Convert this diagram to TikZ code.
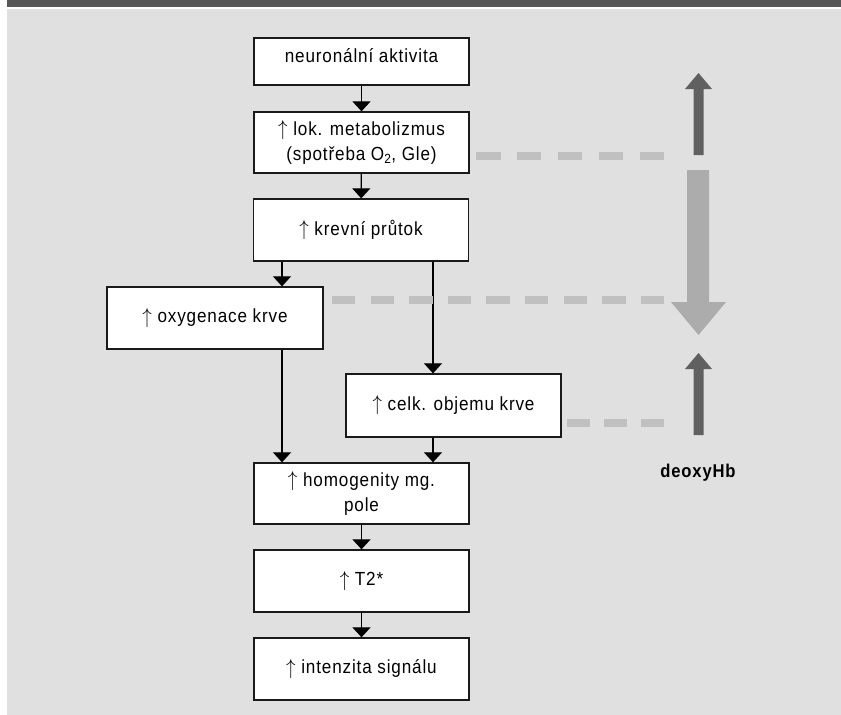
\documentclass[tikz,border=0pt]{standalone}
\usepackage{fontspec}
\usepackage{graphicx}
\setmainfont[LetterSpace=4.5, FakeStretch=0.9]{Liberation Sans}
\usetikzlibrary{arrows.meta}
\definecolor{bgc}{HTML}{E0E0E0}
\definecolor{hdrc}{HTML}{575757}
\definecolor{boxline}{HTML}{1A1A1A}
\definecolor{dashc}{HTML}{C0C0C0}
\definecolor{darkarr}{HTML}{606060}
\definecolor{lightarr}{HTML}{ACACAC}
\newcommand{\upar}{\raisebox{-0.5pt}{\scalebox{1.1}[1.25]{$\uparrow$}}}
\tikzset{
  box/.style={draw=boxline, line width=1.3pt, fill=white, inner sep=0pt, align=center,
    minimum width=215pt, minimum height=62pt, font=\fontsize{19}{25.5}\selectfont},
  arr/.style={draw=black, line width=1.2pt, -{Triangle[width=18pt,length=10pt]}},
  dashline/.style={draw=dashc, line width=7.5pt, line cap=butt},
  bigdark/.style={fill=darkarr},
  biglight/.style={fill=lightarr},
  lbl/.style={font=\bfseries\fontsize{18.5}{20}\selectfont, text=black}
}
\begin{document}
\begin{tikzpicture}[x=1pt,y=-1pt]
\useasboundingbox (0,0) rectangle (841,715);
\fill[white] (0,0) rectangle (841,715);
\fill[hdrc] (7,0) rectangle (841,6.5);
\fill[bgc] (7,9) rectangle (841,715);

% boxes
\node[box, minimum height=47pt, text depth=12pt] (b1) at (361.5,61.5) {neuronální aktivita};
\node[box, minimum height=61pt] (b2) at (361.5,142.5) {\upar{} lok. metabolizmus\\(spotřeba O\textsubscript{2}, Gle)};
\node[box] (b3) at (361,230) {\upar{} krevní průtok};
\node[box, minimum width=216pt] (b4) at (215,318) {\upar{} oxygenace krve};
\node[box, minimum height=63pt] (b5) at (453.5,405.5) {\upar{} celk. objemu krve};
\node[box, minimum height=61pt] (b6) at (361.5,493.5) {\upar{} homogenity mg.\\pole};
\node[box] (b7) at (361.5,581) {\upar{} T2*};
\node[box] (b8) at (361.5,669) {\upar{} intenzita signálu};

% connectors
\coordinate (xl) at (282,0);
\coordinate (xr) at (433,0);
\draw[arr] (b1) -- (b2);
\draw[arr] (b2) -- (b3);
\draw[arr] (b3.south -| xl) -- (b4.north -| xl);
\draw[arr] (b3.south -| xr) -- (b5.north -| xr);
\draw[arr] (b4.south -| xl) -- (b6.north -| xl);
\draw[arr] (b5.south -| xr) -- (b6.north -| xr);
\draw[arr] (b6) -- (b7);
\draw[arr] (b7) -- (b8);

% dashed links
\coordinate (d1s) at (476,156);
\coordinate (d1e) at (664,156);
\coordinate (d2s) at (332,300);
\coordinate (d2e) at (664,300);
\coordinate (d3s) at (567,423);
\coordinate (d3e) at (664,423);
\draw[dashline, dash pattern=on 24.5pt off 16.4pt] (d1s) -- (d1e);
\draw[dashline, dash pattern=on 23.3pt off 15.3pt] (d2s) -- (d2e);
\draw[dashline, dash pattern=on 22.7pt off 14.5pt] (d3s) -- (d3e);

% big arrows
\fill[bigdark] (693.5,155) -- (693.5,89) -- (685,89) -- (698.5,73) -- (712,89) -- (703.5,89) -- (703.5,155) -- cycle;
\fill[biglight] (687,170) -- (687,302) -- (671,302) -- (698.5,335) -- (726,302) -- (709,302) -- (709,170) -- cycle;
\fill[bigdark] (693.5,435) -- (693.5,369) -- (685,369) -- (698.5,353) -- (712,369) -- (703.5,369) -- (703.5,435) -- cycle;

\node[lbl] (dh) at (698,473) {deoxyHb};
\end{tikzpicture}
\end{document}
